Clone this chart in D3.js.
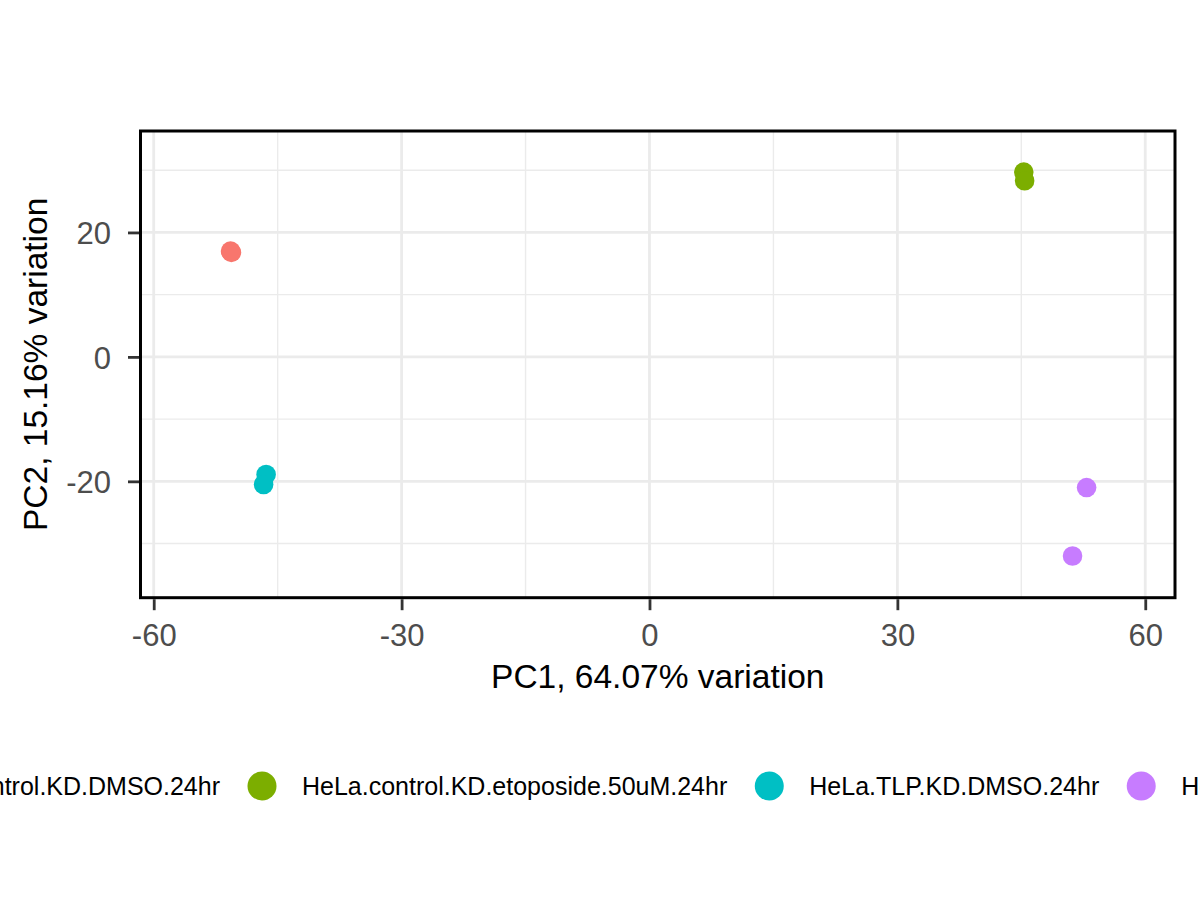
<!DOCTYPE html>
<html lang="en">
<head>
    <meta charset="UTF-8">
    <title>PCA biplot</title>
    <script src="https://d3js.org/d3.v7.min.js"></script>
    <style>
        body { margin: 0; background: #fff; }
        svg { font-family: "Liberation Sans", Arial, Helvetica, sans-serif; }
        .tick-label { fill: #4d4d4d; font-size: 31px; }
        .axis-title { fill: #000; font-size: 33.5px; }
        .legend-text { fill: #000; font-size: 25px; }
    </style>
</head>
<body>
    <div id="chart"></div>
    <script type="text/javascript">
        // groups and their colours (ggplot default hues)
        const groups = [
            "HeLa.control.KD.DMSO.24hr",
            "HeLa.control.KD.etoposide.50uM.24hr",
            "HeLa.TLP.KD.DMSO.24hr",
            "HeLa.TLP.KD.etoposide.50uM.24hr"
        ];
        const colors = ["#F8766D", "#7CAE00", "#00BFC4", "#C77CFF"];

        // samples: PC1 / PC2 scores
        const sampleGroup = [0, 0, 1, 1, 2, 2, 3, 3];
        const pc1 = [-50.7, -50.6, 45.3, 45.4, -46.4, -46.7, 52.9, 51.2];
        const pc2 = [17.0, 16.8, 29.7, 28.3, -18.9, -20.5, -21.0, -32.0];

        const xMajor = [-60, -30, 0, 30, 60];
        const xMinor = [-45, -15, 15, 45];
        const yMajor = [-20, 0, 20];
        const yMinor = [-30, -10, 10, 30];

        const xTitle = "PC1, 64.07% variation";
        const yTitle = "PC2, 15.16% variation";

        const W = 1200, H = 900;
        const panel = {left: 140.5, right: 1175, top: 131, bottom: 597.7};

        const x = d3.scaleLinear().domain([-61.6, 63.6]).range([panel.left, panel.right]);
        const y = d3.scaleLinear().domain([-38.7, 36.3]).range([panel.bottom, panel.top]);

        const svg = d3.select("#chart").append("svg")
            .attr("width", W)
            .attr("height", H);

        svg.append("rect").attr("width", W).attr("height", H).attr("fill", "#fff");

        // grid lines
        const grid = svg.append("g");
        grid.selectAll(".xminor").data(xMinor).enter().append("line")
            .attr("x1", d => x(d)).attr("x2", d => x(d))
            .attr("y1", panel.top).attr("y2", panel.bottom)
            .attr("stroke", "#ebebeb").attr("stroke-width", 1.4);
        grid.selectAll(".yminor").data(yMinor).enter().append("line")
            .attr("y1", d => y(d)).attr("y2", d => y(d))
            .attr("x1", panel.left).attr("x2", panel.right)
            .attr("stroke", "#ebebeb").attr("stroke-width", 1.4);
        grid.selectAll(".xmajor").data(xMajor).enter().append("line")
            .attr("x1", d => x(d)).attr("x2", d => x(d))
            .attr("y1", panel.top).attr("y2", panel.bottom)
            .attr("stroke", "#ebebeb").attr("stroke-width", 2.8);
        grid.selectAll(".ymajor").data(yMajor).enter().append("line")
            .attr("y1", d => y(d)).attr("y2", d => y(d))
            .attr("x1", panel.left).attr("x2", panel.right)
            .attr("stroke", "#ebebeb").attr("stroke-width", 2.8);

        // points
        svg.append("g").selectAll("circle")
            .data(pc1.map((d, i) => ({x: d, y: pc2[i], g: sampleGroup[i]})))
            .enter().append("circle")
            .attr("cx", d => x(d.x))
            .attr("cy", d => y(d.y))
            .attr("r", 9.8)
            .attr("fill", d => colors[d.g]);

        // panel border
        svg.append("rect")
            .attr("x", panel.left).attr("y", panel.top)
            .attr("width", panel.right - panel.left)
            .attr("height", panel.bottom - panel.top)
            .attr("fill", "none").attr("stroke", "#000").attr("stroke-width", 3);

        // axes
        const xAxis = svg.append("g")
            .attr("transform", "translate(0," + (panel.bottom + 1.5) + ")")
            .call(d3.axisBottom(x).tickValues(xMajor).tickSize(11).tickPadding(14).tickFormat(d3.format("d")));
        const yAxis = svg.append("g")
            .attr("transform", "translate(" + (panel.left - 1.5) + ",0)")
            .call(d3.axisLeft(y).tickValues(yMajor).tickSize(11).tickPadding(17).tickFormat(d3.format("d")));
        [xAxis, yAxis].forEach(a => {
            a.select(".domain").remove();
            a.selectAll(".tick line").attr("stroke", "#333").attr("stroke-width", 2.8);
            a.selectAll(".tick text").attr("class", "tick-label").attr("fill", null)
                .attr("font-family", null).attr("font-size", null)
                .text(d => String(d));
        });
        yAxis.selectAll(".tick text").attr("dy", "0.36em");

        // axis titles
        svg.append("text").attr("class", "axis-title")
            .attr("x", (panel.left + panel.right) / 2).attr("y", 688)
            .attr("text-anchor", "middle").text(xTitle);
        svg.append("text").attr("class", "axis-title")
            .attr("transform", "translate(47," + ((panel.top + panel.bottom) / 2) + ") rotate(-90)")
            .attr("text-anchor", "middle").text(yTitle);

        // legend (one row, runs off both edges like the original)
        const legend = svg.append("g");
        const items = legend.selectAll("g").data(groups).enter().append("g");
        items.append("circle").attr("r", 14.5).attr("fill", (d, i) => colors[i]);
        items.append("text").attr("class", "legend-text")
            .attr("x", 40).attr("dy", "0.35em").text(d => d);

        let pos = 0;
        const keyGap = 40, itemGap = 42;
        items.each(function() {
            const w = d3.select(this).select("text").node().getComputedTextLength();
            d3.select(this).attr("transform", "translate(" + pos + ",786)");
            pos += keyGap + w + itemGap;
        });
        // shift so the second key sits where the original puts it
        const firstW = items.filter((d, i) => i === 0).select("text").node().getComputedTextLength();
        legend.attr("transform", "translate(" + (262 - (keyGap + firstW + itemGap)) + ",0)");
    </script>
</body>
</html>
